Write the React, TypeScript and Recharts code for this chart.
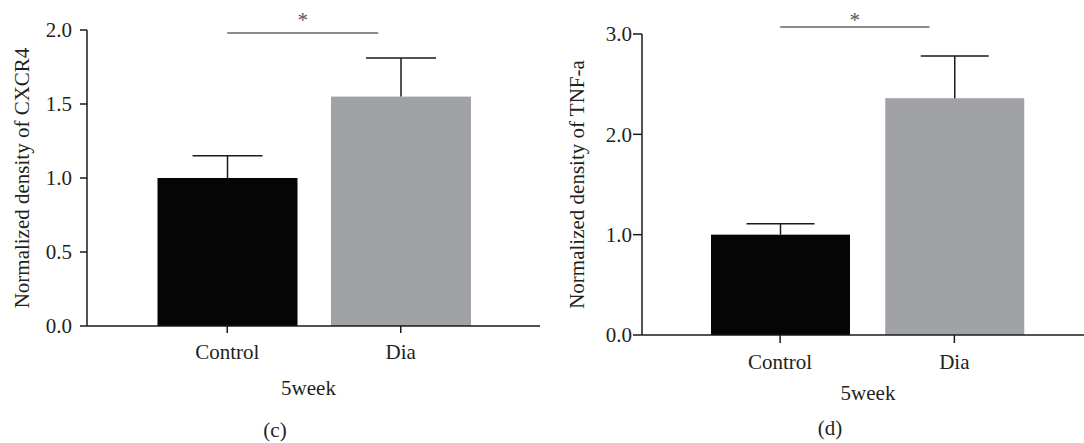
import { Bar, BarChart, ReferenceLine, XAxis, YAxis } from "recharts";

// values (mean + upward error)
const categories = ["Control", "Dia"];
const cxcr4Means = [1.0, 1.55];
const cxcr4Errors = [0.15, 0.26];
const cxcr4Ticks = [0, 0.5, 1, 1.5, 2];
const cxcr4SigY = 1.98;

const tnfMeans = [1.0, 2.36];
const tnfErrors = [0.11, 0.42];
const tnfTicks = [0, 1, 2, 3];
const tnfSigY = 3.07;

const xTitle = "5week";

const barColors = ["#050505", "#a1a2a6"];
const FONT = "'Liberation Serif', 'Times New Roman', serif";
const TEXT = "#231f20";
const AXIS = "#1a1a1a";

type PanelProps = {
  means: number[];
  errors: number[];
  ticks: number[];
  sigY: number;
  yLabel: string;
  caption: string;
  left: number;
  width: number;
  top: number;
  bottom: number;
  yAxisWidth: number;
  padL: number;
  padR: number;
  barSize: number;
  capWidth: number;
  yTickSize: number;
  yTickMargin: number;
  xTickSize: number;
  yLabelOffset: number;
  titleOffset: number;
  titleDx: number;
  starLift: number;
  sigSpan: number;
  captionX: number;
  captionY: number;
};

const makeBarShape = (capWidth: number) => (props: any) => {
  const { x, y, width, height, payload } = props;
  const cx = x + width / 2;
  // pixels per unit from the bar the library just laid out
  const unit = payload.value ? height / payload.value : 0;
  const top = y - payload.err * unit;
  return (
    <g>
      <rect x={x} y={y} width={width} height={height} fill={payload.color} />
      <line x1={cx} y1={y} x2={cx} y2={top} stroke={AXIS} strokeWidth={1.5} />
      <line x1={cx - capWidth / 2} y1={top} x2={cx + capWidth / 2} y2={top} stroke={AXIS} strokeWidth={1.5} />
    </g>
  );
};

const makeSigShape = (span: number, starLift: number) => (props: any) => {
  const { x1, y1, x2 } = props;
  const end = x1 + (x2 - x1) * span;
  return (
    <g>
      <line x1={x1} y1={y1} x2={end} y2={y1} stroke="#666" strokeWidth={1.5} />
      <text x={(x1 + end) / 2} y={y1 - starLift} textAnchor="middle" fontSize={21} fill="#555" fontFamily={FONT}>
        *
      </text>
    </g>
  );
};

function Panel(p: PanelProps) {
  const data = categories.map((name, i) => ({
    name,
    value: p.means[i],
    err: p.errors[i],
    color: barColors[i],
  }));
  const max = p.ticks[p.ticks.length - 1];
  const tickStyle = { fontSize: 21, fill: TEXT, fontFamily: FONT };

  return (
    <div style={{ position: "absolute", left: p.left, top: 0, width: p.width, height: 443 }}>
      <BarChart
        width={p.width}
        height={443}
        data={data}
        margin={{ top: p.top, right: 0, bottom: p.bottom, left: 0 }}
        barSize={p.barSize}
      >
        <XAxis
          dataKey="name"
          type="category"
          interval={0}
          height={40}
          padding={{ left: p.padL, right: p.padR }}
          tickSize={p.xTickSize}
          tickMargin={11}
          axisLine={{ stroke: AXIS, strokeWidth: 1.5 }}
          tickLine={{ stroke: AXIS, strokeWidth: 1.5 }}
          tick={tickStyle}
          label={{
            value: xTitle,
            position: "bottom",
            offset: p.titleOffset,
            dx: p.titleDx,
            fontSize: 21,
            fill: TEXT,
            fontFamily: FONT,
          }}
        />
        <YAxis
          type="number"
          domain={[0, max]}
          ticks={p.ticks}
          interval={0}
          width={p.yAxisWidth}
          tickFormatter={(v: number) => v.toFixed(1)}
          tickSize={p.yTickSize}
          tickMargin={p.yTickMargin}
          axisLine={{ stroke: AXIS, strokeWidth: 1.5 }}
          tickLine={{ stroke: AXIS, strokeWidth: 1.5 }}
          tick={tickStyle}
          label={{
            value: p.yLabel,
            angle: -90,
            position: "insideLeft",
            offset: p.yLabelOffset,
            textAnchor: "middle",
            style: { textAnchor: "middle" },
            fontSize: 21,
            fill: TEXT,
            fontFamily: FONT,
          }}
        />
        <Bar dataKey="value" isAnimationActive={false} shape={makeBarShape(p.capWidth)} />
        <ReferenceLine
          segment={[
            { x: categories[0], y: p.sigY },
            { x: categories[1], y: p.sigY },
          ]}
          ifOverflow="visible"
          shape={makeSigShape(p.sigSpan, p.starLift)}
        />
      </BarChart>
      <div
        style={{
          position: "absolute",
          left: p.captionX - 40,
          top: p.captionY,
          width: 80,
          textAlign: "center",
          fontFamily: FONT,
          fontSize: 21,
          lineHeight: "21px",
          color: TEXT,
        }}
      >
        {p.caption}
      </div>
    </div>
  );
}

export default function App() {
  return (
    <div style={{ position: "absolute", left: 0, top: 0, width: 1084, height: 443, background: "#fff", overflow: "hidden" }}>
      <Panel
        means={cxcr4Means}
        errors={cxcr4Errors}
        ticks={cxcr4Ticks}
        sigY={cxcr4SigY}
        yLabel="Normalized density of CXCR4"
        caption="(c)"
        left={0}
        width={540}
        top={30}
        bottom={77}
        yAxisWidth={87}
        padL={53.5}
        padR={52.5}
        barSize={140}
        capWidth={70}
        yTickSize={7}
        yTickMargin={8}
        xTickSize={7}
        yLabelOffset={22}
        titleOffset={14}
        titleDx={-5}
        starLift={6}
        sigSpan={0.87}
        captionX={275}
        captionY={420}
      />
      <Panel
        means={tnfMeans}
        errors={tnfErrors}
        ticks={tnfTicks}
        sigY={tnfSigY}
        yLabel="Normalized density of TNF-a"
        caption="(d)"
        left={540}
        width={544}
        top={34}
        bottom={68}
        yAxisWidth={102}
        padL={51}
        padR={42.5}
        barSize={139}
        capWidth={68}
        yTickSize={9}
        yTickMargin={1}
        xTickSize={8}
        yLabelOffset={37}
        titleOffset={10}
        titleDx={5}
        starLift={0}
        sigSpan={0.857}
        captionX={290}
        captionY={418}
      />
    </div>
  );
}
